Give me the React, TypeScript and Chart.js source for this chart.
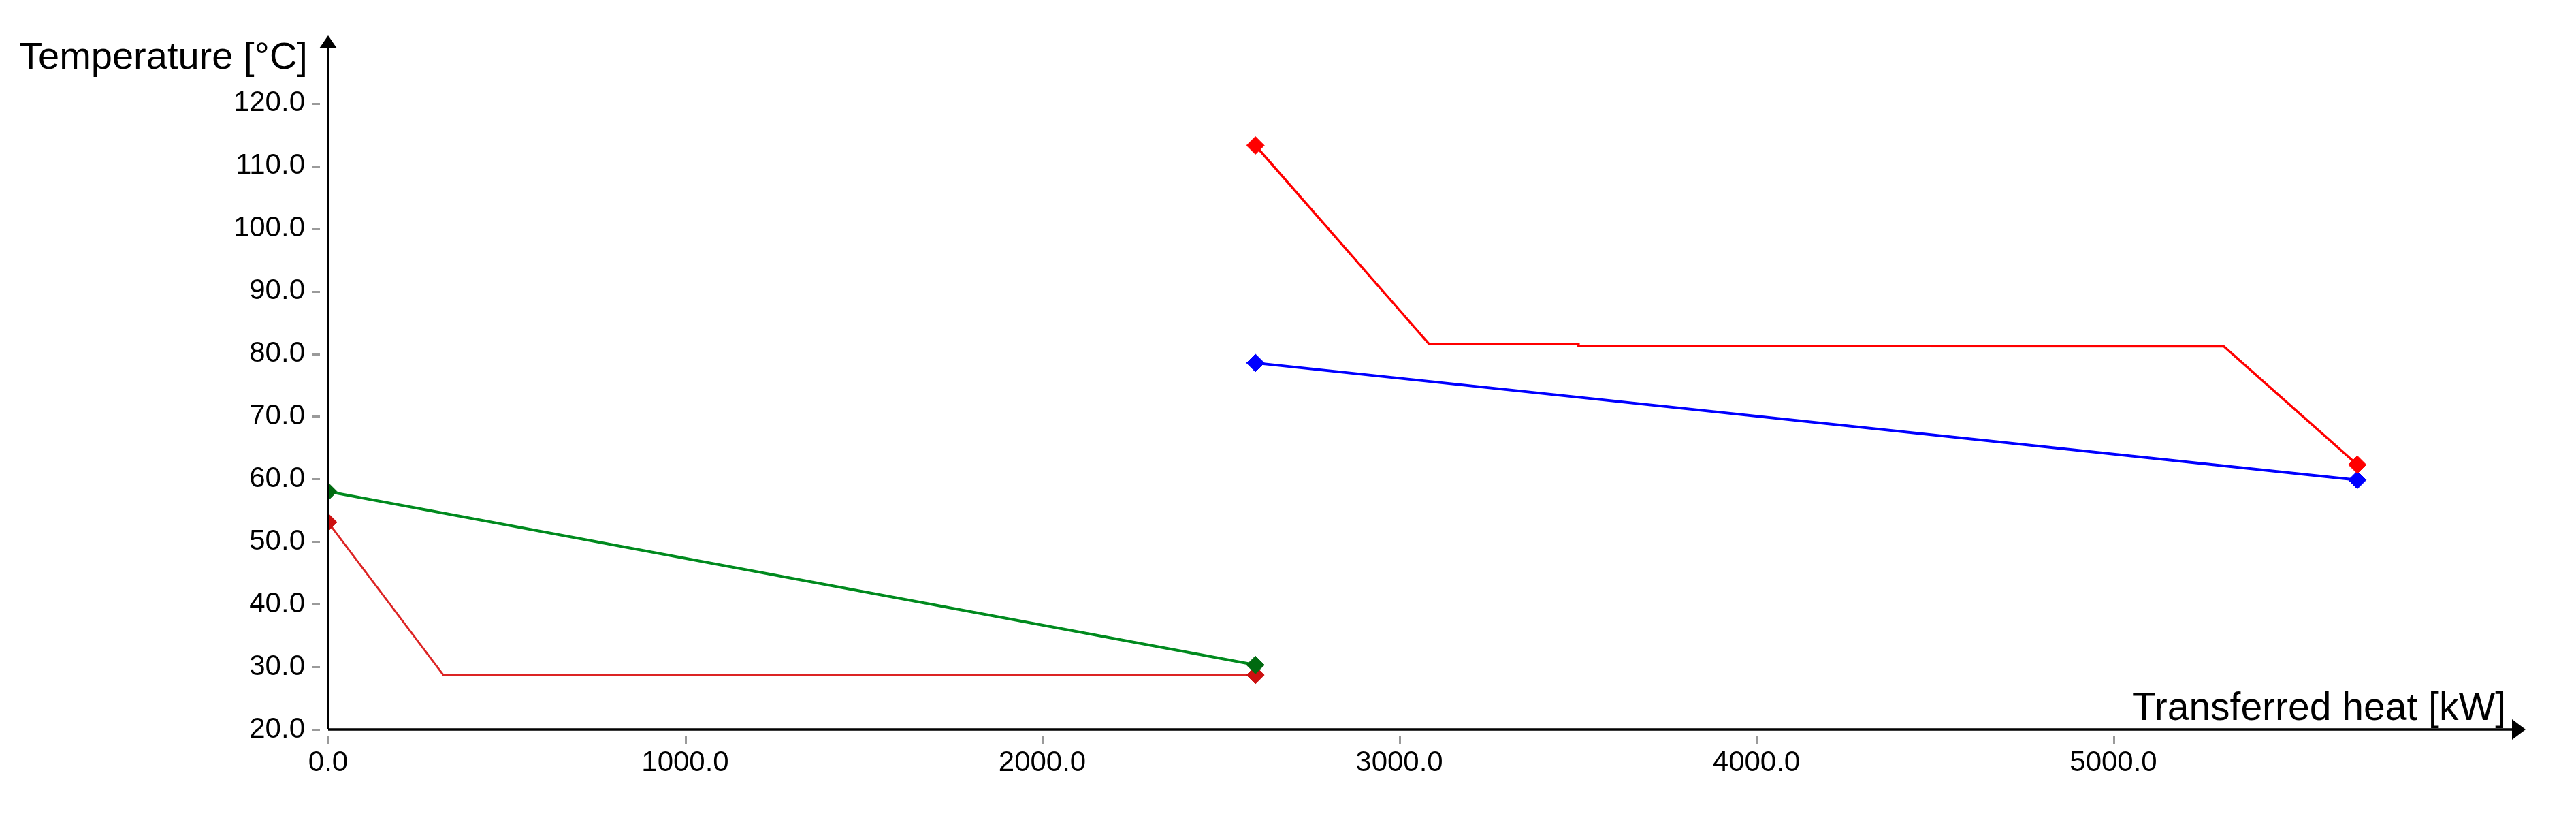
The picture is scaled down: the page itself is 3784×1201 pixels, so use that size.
import React, { useEffect, useRef } from "react";
import { Chart, registerables } from "chart.js";

Chart.register(...registerables);

// ---- Data ----
const lowerHotX = [0, 322, 2597];
const lowerHotY = [53.1, 28.75, 28.7];
const lowerColdX = [0, 2597];
const lowerColdY = [58.0, 30.3];
const upperHotX = [2597, 3083, 3502, 3502, 5309, 5683];
const upperHotY = [113.3, 81.6, 81.6, 81.25, 81.2, 62.3];
const upperColdX = [2597, 5683];
const upperColdY = [78.55, 59.85];

const xTickValues = [0, 1000, 2000, 3000, 4000, 5000];
const yTickValues = [20, 30, 40, 50, 60, 70, 80, 90, 100, 110, 120];
const xTitle = "Transferred heat [kW]";
const yTitle = "Temperature [°C]";

const X_MIN = 0;
const X_MAX = 6000;
const Y_MIN = 20;
const Y_MAX = 130;

const FONT = "'Liberation Sans', Arial, sans-serif";

const toPoints = (xs: number[], ys: number[]) => xs.map((x, i) => ({ x, y: ys[i] }));

const endRadius = (r: number) => (ctx: any) => {
  const n = ctx.dataset.data.length;
  return ctx.dataIndex === 0 || ctx.dataIndex === n - 1 ? r : 0;
};

const decorPlugin = {
  id: "decor",
  afterDraw(chart: any) {
    const ctx = chart.ctx;
    const xs = chart.scales.x;
    const ys = chart.scales.y;
    const x0 = xs.getPixelForValue(X_MIN);
    const y0 = ys.getPixelForValue(Y_MIN);
    const yTop = 52;
    const xRight = 3710;
    ctx.save();
    // tick marks
    ctx.strokeStyle = "#9a9a9a";
    ctx.lineWidth = 3;
    yTickValues.forEach((v) => {
      const py = Math.round(ys.getPixelForValue(v)) + 0.5;
      ctx.beginPath();
      ctx.moveTo(459, py);
      ctx.lineTo(470, py);
      ctx.stroke();
    });
    xTickValues.forEach((v) => {
      const px = Math.round(xs.getPixelForValue(v)) + 0.5;
      ctx.beginPath();
      ctx.moveTo(px, y0 + 10);
      ctx.lineTo(px, y0 + 22);
      ctx.stroke();
    });
    // axis lines
    ctx.strokeStyle = "#000";
    ctx.lineWidth = 3.5;
    ctx.beginPath();
    ctx.moveTo(x0, y0);
    ctx.lineTo(x0, yTop + 10);
    ctx.moveTo(x0, y0);
    ctx.lineTo(xRight - 10, y0);
    ctx.stroke();
    // arrows
    ctx.fillStyle = "#000";
    ctx.beginPath();
    ctx.moveTo(x0, yTop);
    ctx.lineTo(x0 - 13, yTop + 19);
    ctx.lineTo(x0 + 13, yTop + 19);
    ctx.closePath();
    ctx.fill();
    ctx.beginPath();
    ctx.moveTo(xRight, y0);
    ctx.lineTo(xRight - 20, y0 - 15);
    ctx.lineTo(xRight - 20, y0 + 15);
    ctx.closePath();
    ctx.fill();
    // titles
    ctx.fillStyle = "#000";
    ctx.textBaseline = "alphabetic";
    ctx.textAlign = "left";
    ctx.font = `56px ${FONT}`;
    ctx.fillText(yTitle, 28, 101);
    ctx.font = `57px ${FONT}`;
    ctx.fillText(xTitle, 3132, 1057);
    ctx.restore();
  },
};

export default function App() {
  const ref = useRef<HTMLCanvasElement | null>(null);
  useEffect(() => {
    if (!ref.current) return;
    const chart = new Chart(ref.current, {
      type: "line",
      data: {
        datasets: [
          {
            label: "Cold stream 1",
            data: toPoints(lowerColdX, lowerColdY),
            borderColor: "#008a1e",
            backgroundColor: "#006a10",
            pointBackgroundColor: "#006a10",
            pointBorderColor: "#006a10",
            borderWidth: 4,
            pointStyle: "rectRot",
            pointRadius: endRadius(13),
            pointBorderWidth: 1,
            tension: 0,
          },
          {
            label: "Hot stream 1",
            data: toPoints(lowerHotX, lowerHotY),
            borderColor: "#dc2424",
            backgroundColor: "#cc1010",
            pointBackgroundColor: "#cc1010",
            pointBorderColor: "#cc1010",
            borderWidth: 3,
            pointStyle: "rectRot",
            pointRadius: endRadius(13),
            pointBorderWidth: 1,
            tension: 0,
          },
          {
            label: "Hot stream 2",
            data: toPoints(upperHotX, upperHotY),
            borderColor: "#ff0000",
            backgroundColor: "#ff0000",
            pointBackgroundColor: "#ff0000",
            pointBorderColor: "#ff0000",
            borderWidth: 3.5,
            pointStyle: "rectRot",
            pointRadius: endRadius(13),
            pointBorderWidth: 1,
            tension: 0,
          },
          {
            label: "Cold stream 2",
            data: toPoints(upperColdX, upperColdY),
            borderColor: "#0000ff",
            backgroundColor: "#0000ff",
            pointBackgroundColor: "#0000ff",
            pointBorderColor: "#0000ff",
            borderWidth: 4,
            pointStyle: "rectRot",
            pointRadius: endRadius(13),
            pointBorderWidth: 1,
            tension: 0,
          },
        ],
      },
      options: {
        animation: false,
        responsive: false,
        devicePixelRatio: 1,
        events: [],
        layout: { padding: { top: 60, right: 155, left: 0, bottom: 0 } },
        plugins: { legend: { display: false }, tooltip: { enabled: false } },
        scales: {
          x: {
            type: "linear",
            min: X_MIN,
            max: X_MAX,
            afterFit: (s: any) => {
              s.height = 130;
            },
            afterBuildTicks: (s: any) => {
              s.ticks = xTickValues.map((v) => ({ value: v }));
            },
            border: { display: false },
            grid: { display: false, drawTicks: false },
            ticks: {
              padding: 24,
              color: "#000",
              font: { family: FONT, size: 42 },
              callback: (v: any) => Number(v).toFixed(1),
              maxRotation: 0,
              autoSkip: false,
            },
          },
          y: {
            type: "linear",
            min: Y_MIN,
            max: Y_MAX,
            afterFit: (s: any) => {
              s.width = 482;
            },
            afterBuildTicks: (s: any) => {
              s.ticks = yTickValues.map((v) => ({ value: v }));
            },
            border: { display: false },
            grid: { display: false, drawTicks: false },
            ticks: {
              padding: 34,
              color: "#000",
              font: { family: FONT, size: 42 },
              callback: (v: any) => Number(v).toFixed(1),
              autoSkip: false,
            },
          },
        },
      },
      plugins: [decorPlugin],
    });
    return () => chart.destroy();
  }, []);
  return (
    <div style={{ position: "absolute", left: 0, top: 0, width: 3784, height: 1201, background: "#fff" }}>
      <canvas ref={ref} width={3784} height={1201} style={{ width: 3784, height: 1201 }} />
    </div>
  );
}
